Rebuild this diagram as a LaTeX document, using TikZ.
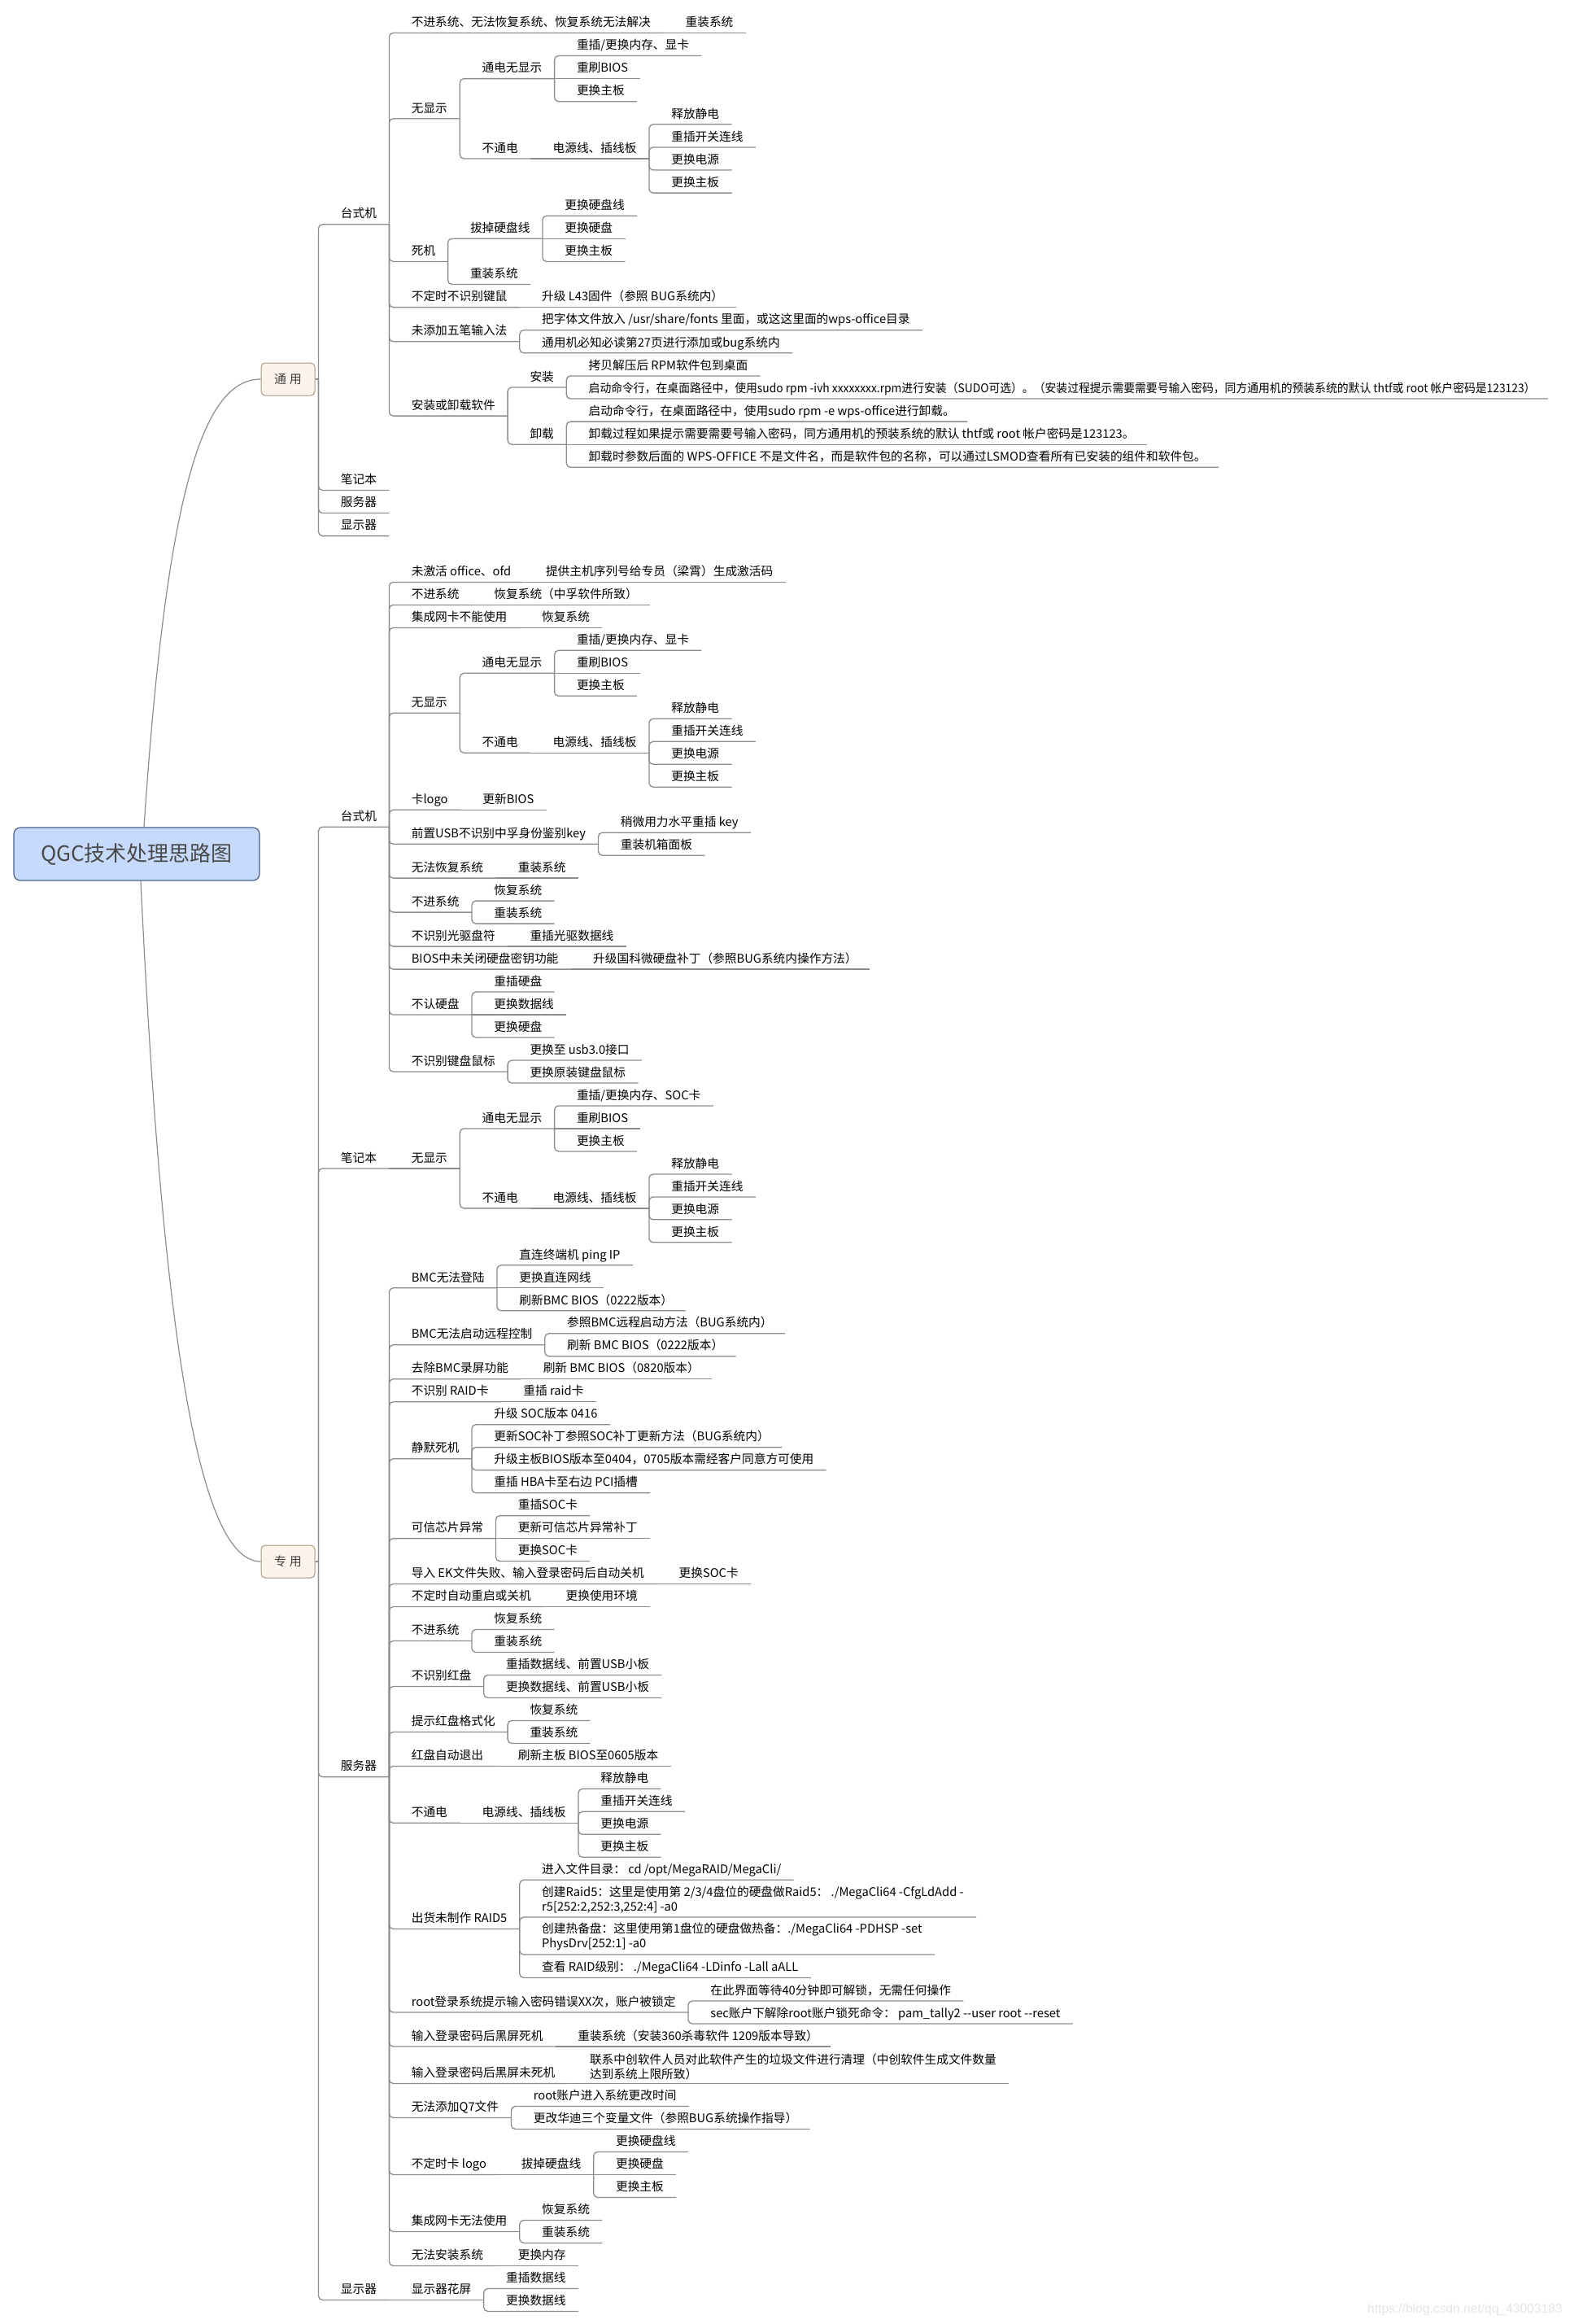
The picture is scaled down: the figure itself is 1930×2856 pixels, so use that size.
\documentclass[tikz,border=0pt]{standalone}
\usepackage{fontspec}
\usepackage{graphicx}
\setmainfont{Noto Sans CJK SC}
\newfontfamily\wmfont{Liberation Sans}
\usetikzlibrary{positioning}
\definecolor{linegray}{HTML}{8C8C8C}
\definecolor{rootfill}{HTML}{C6DBFB}
\definecolor{rootline}{HTML}{4A5E8E}
\definecolor{topfill}{HTML}{FEF3EA}
\definecolor{topline}{HTML}{A8967F}
\definecolor{roottext}{HTML}{4A4A4A}
\tikzset{
  item/.style={anchor=west, xshift=13.5pt, inner xsep=0pt, inner ysep=2.7pt,
    text height=6.6pt, text depth=1pt, font=\fontsize{7.35}{9}\selectfont},
  itemm/.style={anchor=south west, xshift=13.5pt, inner xsep=0pt, inner ysep=2.2pt,
    align=left, font=\fontsize{7.35}{9}\selectfont},
  link/.style={draw=linegray, line width=0.65pt, rounded corners=2.5pt},
  curve/.style={draw=linegray, line width=0.6pt},
  rootbox/.style={draw=rootline, fill=rootfill, line width=0.6pt, rounded corners=4pt,
    minimum width=151pt, minimum height=32.5pt, text=roottext, font=\fontsize{13}{15}\selectfont},
  topbox/.style={draw=topline, fill=topfill, line width=0.5pt, rounded corners=2.5pt,
    minimum width=33pt, minimum height=20pt, inner sep=0pt, text=black!75,
    font=\fontsize{7.5}{9}\selectfont}
}
% child below a bar: parent, name, y, text
\newcommand{\kid}[4]{%
  \path (0,#3) coordinate (tmpy);
  \node[item] (#2) at (#1-bar |- tmpy) {#4};
  \coordinate (#2-bar) at ([xshift=7.5pt]#2.south east);
  \draw[link] (#1-bar) |- (#2-bar);}
\newcommand{\kidone}[4]{%
  \path (0,#3) coordinate (tmpy);
  \node[item] (#2) at (#1-bar |- tmpy) {#4};
  \coordinate (#2-bar) at ([xshift=7.5pt]#2.south east);
  \draw[link] (#1-bar) -- (#2-bar);}
\newcommand{\kidm}[4]{%
  \path (0,#3) coordinate (tmpy);
  \node[itemm] (#2) at (#1-bar |- tmpy) {#4};
  \coordinate (#2-bar) at ([xshift=7.5pt]#2.south east);
  \draw[link] (#1-bar) |- (#2-bar);}
\begin{document}
\begin{tikzpicture}[x=0.5pt, y=-0.5pt]
  \useasboundingbox (0,0) rectangle (1930,2856);
  \node[rootbox] (root) at (168,1049.5) {QGC技术处理思路图};
  \node[topbox] (g) at (354,466) {通\hspace{2pt}用};
  \node[topbox] (z) at (354,1919) {专\hspace{2pt}用};
  \draw[curve] ([xshift=4.5pt]root.north) .. controls (205,600) and (250,466) .. (g.west);
  \draw[curve] ([xshift=2.5pt]root.south) .. controls (200,1650) and (245,1919) .. (z.west);
  \coordinate (g-bar) at ([xshift=2pt]g.east);
  \coordinate (z-bar) at ([xshift=2pt]z.east);
  \draw[link] (g.east) -- (g-bar);
  \draw[link] (z.east) -- (z-bar);

  % 通用
  \kid{g}{gd}{262.35}{台式机}
  \kid{gd}{gd1}{27}{不进系统、无法恢复系统、恢复系统无法解决}
  \kidone{gd1}{gd1a}{27}{重装系统}
  \kid{gd}{gd2}{132.4}{无显示}
  \kid{gd2}{gd2a}{83.2}{通电无显示}
  \kid{gd2a}{gd2a1}{55.1}{重插/更换内存、显卡}
  \kidone{gd2a}{gd2a2}{83.2}{重刷BIOS}
  \kid{gd2a}{gd2a3}{111.3}{更换主板}
  \kid{gd2}{gd2b}{181.55}{不通电}
  \kidone{gd2b}{gd2b1}{181.55}{电源线、插线板}
  \kid{gd2b1}{gd2b11}{139.4}{释放静电}
  \kid{gd2b1}{gd2b12}{167.5}{重插开关连线}
  \kid{gd2b1}{gd2b13}{195.6}{更换电源}
  \kid{gd2b1}{gd2b14}{223.7}{更换主板}
  \kid{gd}{gd3}{308}{死机}
  \kid{gd3}{gd3a}{279.9}{拔掉硬盘线}
  \kid{gd3a}{gd3a1}{251.8}{更换硬盘线}
  \kidone{gd3a}{gd3a2}{279.9}{更换硬盘}
  \kid{gd3a}{gd3a3}{308}{更换主板}
  \kid{gd3}{gd3b}{336.1}{重装系统}
  \kid{gd}{gd4}{364.2}{不定时不识别键鼠}
  \kidone{gd4}{gd4a}{364.2}{升级 L43固件（参照 BUG系统内）}
  \kid{gd}{gd5}{406.35}{未添加五笔输入法}
  \kid{gd5}{gd5a}{392.3}{把字体文件放入 /usr/share/fonts 里面，或这这里面的wps-office目录}
  \kid{gd5}{gd5b}{420.4}{通用机必知必读第27页进行添加或bug系统内}
  \kid{gd}{gd6}{497.7}{安装或卸载软件}
  \kid{gd6}{gd6a}{462.55}{安装}
  \kid{gd6a}{gd6a1}{448.5}{拷贝解压后 RPM软件包到桌面}
  \kid{gd6a}{gd6a2}{476.6}{\scalebox{0.94}[1]{启动命令行，在桌面路径中，使用sudo rpm -ivh xxxxxxxx.rpm进行安装（SUDO可选）。（安装过程提示需要需要号输入密码，同方通用机的预装系统的默认 thtf或 root 帐户密码是123123）}}
  \kid{gd6}{gd6b}{532.8}{卸载}
  \kid{gd6b}{gd6b1}{504.7}{启动命令行，在桌面路径中，使用sudo rpm -e wps-office进行卸载。}
  \kidone{gd6b}{gd6b2}{532.8}{卸载过程如果提示需要需要号输入密码，同方通用机的预装系统的默认 thtf或 root 帐户密码是123123。}
  \kid{gd6b}{gd6b3}{560.9}{卸载时参数后面的 WPS-OFFICE 不是文件名，而是软件包的名称，可以通过LSMOD查看所有已安装的组件和软件包。}
  \kid{g}{gn}{589}{笔记本}
  \kid{g}{gs}{617.1}{服务器}
  \kid{g}{gm}{645.2}{显示器}

  % 专用 / 台式机
  \kid{z}{zd}{1002.8}{台式机}
  \kid{zd}{zd1}{702}{未激活 office、ofd}
  \kidone{zd1}{zd1a}{702}{提供主机序列号给专员（梁霄）生成激活码}
  \kid{zd}{zd2}{730}{不进系统}
  \kidone{zd2}{zd2a}{730}{恢复系统（中孚软件所致）}
  \kid{zd}{zd3}{758}{集成网卡不能使用}
  \kidone{zd3}{zd3a}{758}{恢复系统}
  \kid{zd}{zd4}{862.9}{无显示}
  \kid{zd4}{zd4a}{813.9}{通电无显示}
  \kid{zd4a}{zd4a1}{785.9}{重插/更换内存、显卡}
  \kidone{zd4a}{zd4a2}{813.9}{重刷BIOS}
  \kid{zd4a}{zd4a3}{841.9}{更换主板}
  \kid{zd4}{zd4b}{911.85}{不通电}
  \kidone{zd4b}{zd4b1}{911.85}{电源线、插线板}
  \kid{zd4b1}{zd4b11}{869.9}{释放静电}
  \kid{zd4b1}{zd4b12}{897.9}{重插开关连线}
  \kid{zd4b1}{zd4b13}{925.8}{更换电源}
  \kid{zd4b1}{zd4b14}{953.8}{更换主板}
  \kid{zd}{zd5}{981.8}{卡logo}
  \kidone{zd5}{zd5a}{981.8}{更新BIOS}
  \kid{zd}{zd6}{1023.8}{前置USB不识别中孚身份鉴别key}
  \kid{zd6}{zd6a}{1009.8}{稍微用力水平重插 key}
  \kid{zd6}{zd6b}{1037.8}{重装机箱面板}
  \kid{zd}{zd7}{1065.7}{无法恢复系统}
  \kidone{zd7}{zd7a}{1065.7}{重装系统}
  \kid{zd}{zd8}{1107.7}{不进系统}
  \kid{zd8}{zd8a}{1093.7}{恢复系统}
  \kid{zd8}{zd8b}{1121.7}{重装系统}
  \kid{zd}{zd9}{1149.7}{不识别光驱盘符}
  \kidone{zd9}{zd9a}{1149.7}{重插光驱数据线}
  \kid{zd}{zd10}{1177.7}{BIOS中未关闭硬盘密钥功能}
  \kidone{zd10}{zd10a}{1177.7}{升级国科微硬盘补丁（参照BUG系统内操作方法）}
  \kid{zd}{zd11}{1233.6}{不认硬盘}
  \kid{zd11}{zd11a}{1205.6}{重插硬盘}
  \kidone{zd11}{zd11b}{1233.6}{更换数据线}
  \kid{zd11}{zd11c}{1261.6}{更换硬盘}
  \kid{zd}{zd12}{1303.6}{不识别键盘鼠标}
  \kid{zd12}{zd12a}{1289.6}{更换至 usb3.0接口}
  \kid{zd12}{zd12b}{1317.6}{更换原装键盘鼠标}

  % 专用 / 笔记本
  \kid{z}{zn}{1422.5}{笔记本}
  \kidone{zn}{zn1}{1422.5}{无显示}
  \kid{zn1}{zn1a}{1373.5}{通电无显示}
  \kid{zn1a}{zn1a1}{1345.5}{重插/更换内存、SOC卡}
  \kidone{zn1a}{zn1a2}{1373.5}{重刷BIOS}
  \kid{zn1a}{zn1a3}{1401.5}{更换主板}
  \kid{zn1}{zn1b}{1471.45}{不通电}
  \kidone{zn1b}{zn1b1}{1471.45}{电源线、插线板}
  \kid{zn1b1}{zn1b11}{1429.5}{释放静电}
  \kid{zn1b1}{zn1b12}{1457.5}{重插开关连线}
  \kid{zn1b1}{zn1b13}{1485.4}{更换电源}
  \kid{zn1b1}{zn1b14}{1513.4}{更换主板}

  % 专用 / 服务器
  \kid{z}{zs}{2170.2}{服务器}
  \kid{zs}{zs1}{1569.4}{BMC无法登陆}
  \kid{zs1}{zs1a}{1541.4}{直连终端机 ping IP}
  \kidone{zs1}{zs1b}{1569.4}{更换直连网线}
  \kid{zs1}{zs1c}{1597.4}{刷新BMC BIOS（0222版本）}
  \kid{zs}{zs2}{1639.3}{BMC无法启动远程控制}
  \kid{zs2}{zs2a}{1625.3}{参照BMC远程启动方法（BUG系统内）}
  \kid{zs2}{zs2b}{1653.3}{刷新 BMC BIOS（0222版本）}
  \kid{zs}{zs3}{1681.3}{去除BMC录屏功能}
  \kidone{zs3}{zs3a}{1681.3}{刷新 BMC BIOS（0820版本）}
  \kid{zs}{zs4}{1709.3}{不识别 RAID卡}
  \kidone{zs4}{zs4a}{1709.3}{重插 raid卡}
  \kid{zs}{zs5}{1779.25}{静默死机}
  \kid{zs5}{zs5a}{1737.3}{升级 SOC版本 0416}
  \kid{zs5}{zs5b}{1765.2}{更新SOC补丁参照SOC补丁更新方法（BUG系统内）}
  \kid{zs5}{zs5c}{1793.2}{升级主板BIOS版本至0404，0705版本需经客户同意方可使用}
  \kid{zs5}{zs5d}{1821.2}{重插 HBA卡至右边 PCI插槽}
  \kid{zs}{zs6}{1877.2}{可信芯片异常}
  \kid{zs6}{zs6a}{1849.2}{重插SOC卡}
  \kidone{zs6}{zs6b}{1877.2}{更新可信芯片异常补丁}
  \kid{zs6}{zs6c}{1905.1}{更换SOC卡}
  \kid{zs}{zs7}{1933.1}{导入 EK文件失败、输入登录密码后自动关机}
  \kidone{zs7}{zs7a}{1933.1}{更换SOC卡}
  \kid{zs}{zs8}{1961.1}{不定时自动重启或关机}
  \kidone{zs8}{zs8a}{1961.1}{更换使用环境}
  \kid{zs}{zs9}{2003.1}{不进系统}
  \kid{zs9}{zs9a}{1989.1}{恢复系统}
  \kid{zs9}{zs9b}{2017.1}{重装系统}
  \kid{zs}{zs10}{2059}{不识别红盘}
  \kid{zs10}{zs10a}{2045}{重插数据线、前置USB小板}
  \kid{zs10}{zs10b}{2073}{更换数据线、前置USB小板}
  \kid{zs}{zs11}{2115}{提示红盘格式化}
  \kid{zs11}{zs11a}{2101}{恢复系统}
  \kid{zs11}{zs11b}{2129}{重装系统}
  \kid{zs}{zs12}{2157}{红盘自动退出}
  \kidone{zs12}{zs12a}{2157}{刷新主板 BIOS至0605版本}
  \kid{zs}{zs13}{2226.9}{不通电}
  \kidone{zs13}{zs13a}{2226.9}{电源线、插线板}
  \kid{zs13a}{zs13a1}{2184.9}{释放静电}
  \kid{zs13a}{zs13a2}{2212.9}{重插开关连线}
  \kid{zs13a}{zs13a3}{2240.9}{更换电源}
  \kid{zs13a}{zs13a4}{2268.9}{更换主板}
  \kid{zs}{zs14}{2357}{出货未制作 RAID5}
  \kid{zs14}{zs14a}{2296.9}{进入文件目录： cd /opt/MegaRAID/MegaCli/}
  \kidm{zs14}{zs14b}{2356}{创建Raid5：这里是使用第 2/3/4盘位的硬盘做Raid5： ./MegaCli64 -CfgLdAdd -\\r5[252:2,252:3,252:4] -a0}
  \kidm{zs14}{zs14c}{2402}{创建热备盘：这里使用第1盘位的硬盘做热备：./MegaCli64 -PDHSP -set\\PhysDrv[252:1] -a0}
  \kid{zs14}{zs14d}{2417}{查看 RAID级别： ./MegaCli64 -LDinfo -Lall aALL}
  \kid{zs}{zs15}{2459.6}{root登录系统提示输入密码错误XX次，账户被锁定}
  \kid{zs15}{zs15a}{2445.6}{在此界面等待40分钟即可解锁，无需任何操作}
  \kid{zs15}{zs15b}{2473.6}{sec账户下解除root账户锁死命令： pam\_tally2 -{}-user root -{}-reset}
  \kid{zs}{zs16}{2501.6}{输入登录密码后黑屏死机}
  \kidone{zs16}{zs16a}{2501.6}{重装系统（安装360杀毒软件 1209版本导致）}
  \kid{zs}{zs17}{2547}{输入登录密码后黑屏未死机}
  \node[itemm] (zs17a) at (zs17-bar) {联系中创软件人员对此软件产生的垃圾文件进行清理（中创软件生成文件数量\\达到系统上限所致）};
  \coordinate (zs17a-bar) at ([xshift=7.5pt]zs17a.south east);
  \draw[link] (zs17-bar) -- (zs17a-bar);
  \kid{zs}{zs18}{2589}{无法添加Q7文件}
  \kid{zs18}{zs18a}{2575}{root账户进入系统更改时间}
  \kid{zs18}{zs18b}{2603}{更改华迪三个变量文件（参照BUG系统操作指导）}
  \kid{zs}{zs19}{2659}{不定时卡 logo}
  \kidone{zs19}{zs19a}{2659}{拔掉硬盘线}
  \kid{zs19a}{zs19a1}{2631}{更换硬盘线}
  \kidone{zs19a}{zs19a2}{2659}{更换硬盘}
  \kid{zs19a}{zs19a3}{2687}{更换主板}
  \kid{zs}{zs20}{2729}{集成网卡无法使用}
  \kid{zs20}{zs20a}{2715}{恢复系统}
  \kid{zs20}{zs20b}{2743}{重装系统}
  \kid{zs}{zs21}{2771}{无法安装系统}
  \kidone{zs21}{zs21a}{2771}{更换内存}

  % 专用 / 显示器
  \kid{z}{zm}{2813}{显示器}
  \kidone{zm}{zm1}{2813}{显示器花屏}
  \kid{zm1}{zm1a}{2799}{重插数据线}
  \kid{zm1}{zm1b}{2827}{更换数据线}

  \node[anchor=south east, inner sep=0pt, text=black!10, font=\wmfont\fontsize{7.8}{9}\selectfont] (wm) at (1921,2846) {https://blog.csdn.net/qq\_43003183};
\end{tikzpicture}
\end{document}
